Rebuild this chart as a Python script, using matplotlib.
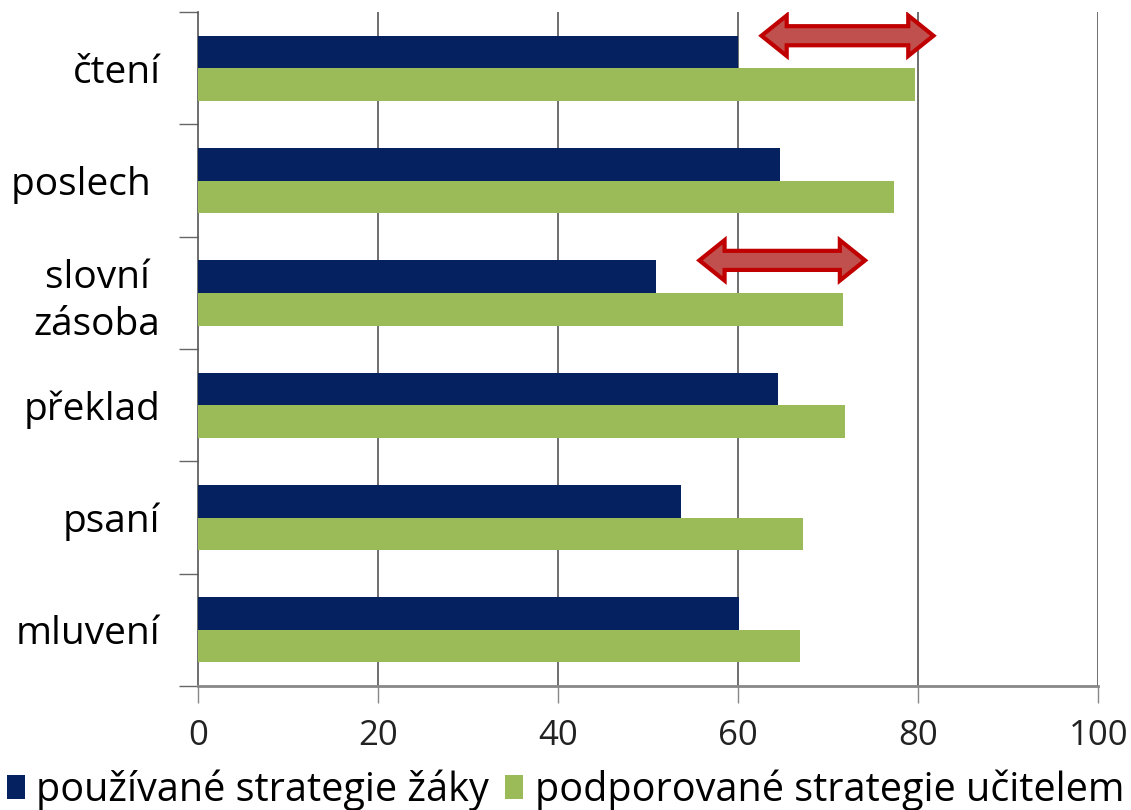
import numpy as np
import matplotlib.pyplot as plt
from matplotlib.patches import Polygon

# data
kategorie = ['čtení', 'poslech ', 'slovní \nzásoba', 'překlad', 'psaní', 'mluvení']
zaci = [60.0, 64.7, 50.9, 64.4, 53.7, 60.1]
ucitel = [79.7, 77.3, 71.6, 71.9, 67.2, 66.9]
nazvy = ['používané strategie žáky', 'podporované strategie učitelem']
x_ticks = [0, 20, 40, 60, 80, 100]

# red double arrows (start, end, category index)
sipky_od = [62.6, 55.7]
sipky_do = [81.7, 74.1]
sipky_kat = [0, 2]

c_zaci = '#06215f'
c_ucitel = '#9bbb59'

plt.rcParams['font.family'] = ['Open Sans', 'DejaVu Sans']

fig = plt.figure(figsize=(11.31, 8.10), dpi=100)
ax = fig.add_axes([0.175, 0.153, 0.796, 0.832])

y = np.arange(len(kategorie))
h = 0.29
ax.barh(y - h / 2, zaci, height=h, color=c_zaci, label=nazvy[0], zorder=3)
ax.barh(y + h / 2, ucitel, height=h, color=c_ucitel, label=nazvy[1], zorder=3)

ax.set_xlim(0, 100)
ax.set_ylim(len(kategorie) - 0.5, -0.5)

# gridlines
for xv in x_ticks[1:]:
    ax.axvline(xv, color='#555555', lw=1.2, zorder=1)

ax.set_xticks(x_ticks)
ax.set_xticklabels([str(v) for v in x_ticks], fontsize=25, color='#222222')
ax.tick_params(axis='x', length=12, width=1, color='#888888', pad=12)

ax.set_yticks(y)
ax.set_yticklabels(kategorie, fontsize=28, linespacing=1.3)
ax.tick_params(axis='y', length=0, pad=27)
ax.set_yticks(np.arange(-0.5, len(kategorie)), minor=True)
ax.tick_params(axis='y', which='minor', length=14, width=1, color='#666666')

for s in ['top', 'right']:
    ax.spines[s].set_visible(False)
ax.spines['left'].set_color('#555555')
ax.spines['left'].set_linewidth(1.2)
ax.spines['bottom'].set_color('#888888')
ax.spines['bottom'].set_linewidth(2)

# double arrows
for a, b, k in zip(sipky_od, sipky_do, sipky_kat):
    yc = k - 0.29
    hl = 2.8
    sh = 0.085
    hh = 0.18
    pts = [(a, yc), (a + hl, yc - hh), (a + hl, yc - sh), (b - hl, yc - sh),
           (b - hl, yc - hh), (b, yc), (b - hl, yc + hh), (b - hl, yc + sh),
           (a + hl, yc + sh), (a + hl, yc + hh)]
    ax.add_patch(Polygon(pts, closed=True, facecolor='#c0504d', edgecolor='#c00000',
                         lw=3, joinstyle='miter', zorder=5))

leg = fig.legend(loc='lower center', bbox_to_anchor=(0.5, -0.045), ncol=2, frameon=False,
                 fontsize=28.5, handlelength=0.45, handleheight=0.55, handletextpad=0.3,
                 columnspacing=0.4)

fig.savefig('out.png', dpi=100, facecolor='white')
